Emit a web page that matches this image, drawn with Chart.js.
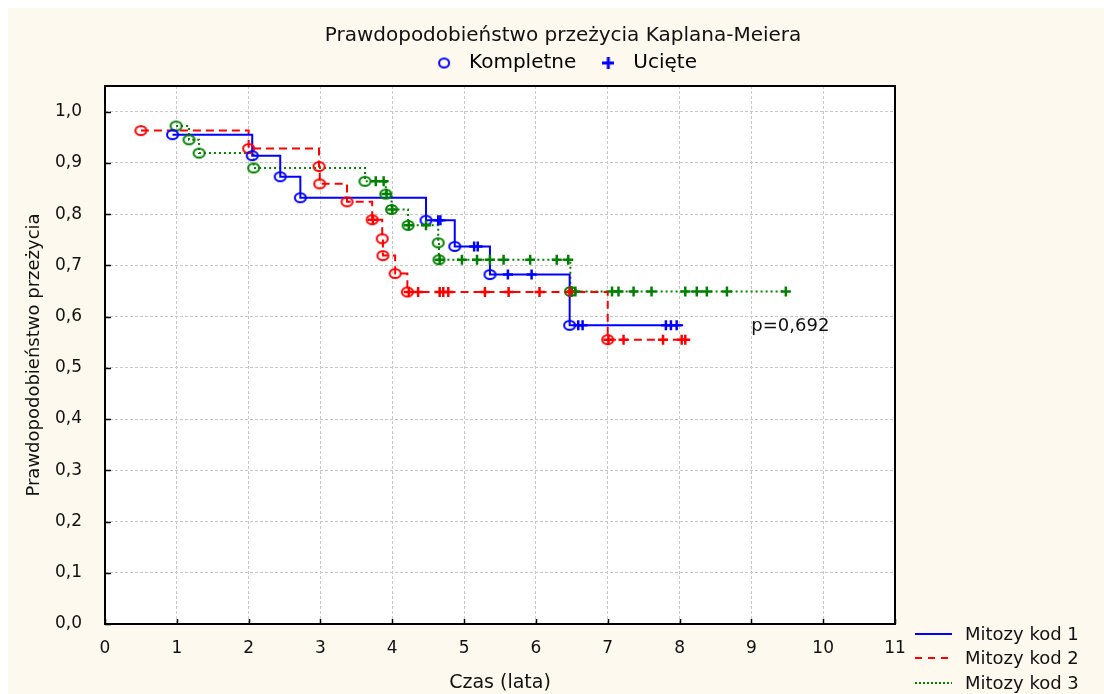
<!DOCTYPE html>
<html>
<head>
<meta charset="utf-8">
<script src="https://cdn.jsdelivr.net/npm/chart.js@4.4.0/dist/chart.umd.min.js"></script>
<style>
  html, body { margin: 0; padding: 0; background: #fff; }
  #wrap { position: relative; width: 1104px; height: 694px; overflow: hidden; }
  #paper { position: absolute; left: 8px; top: 8px; right: 0; bottom: 0; background: #fef9ef; }
  #kmChart { position: absolute; left: 0; top: 0; }
  .key { position: absolute; left: 915px; width: 189px; height: 24px; font: 18px "DejaVu Sans", sans-serif; color: #111; }
  .key .sample { position: absolute; left: 0; top: 11px; width: 37px; height: 2px; }
  .key span { position: absolute; left: 50px; top: 0; line-height: 24px; white-space: nowrap; }
</style>
</head>
<body>
<div id="wrap">
  <div id="paper"></div>
  <canvas id="kmChart" width="1104" height="694"></canvas>
  <div class="key" style="top:622px"><div class="sample" style="background:#0000ff"></div><span>Mitozy kod 1</span></div>
  <div class="key" style="top:646px"><div class="sample" style="background:repeating-linear-gradient(90deg,#ff0000 0 7px,transparent 7px 13px)"></div><span>Mitozy kod 2</span></div>
  <div class="key" style="top:671px"><div class="sample" style="background:repeating-linear-gradient(90deg,#008000 0 2px,transparent 2px 4px)"></div><span>Mitozy kod 3</span></div>
</div>
<script>
Chart.defaults.font.family = '"DejaVu Sans", sans-serif';
Chart.defaults.color = '#111';

// Mitozy kod 1 - step curve (time, survival); last point = end of follow-up
const kod1Times = [0.94, 2.05, 2.44, 2.72, 4.47, 4.87, 5.36, 6.47, 8.05];
const kod1Surv  = [0.955, 0.914, 0.873, 0.832, 0.788, 0.737, 0.682, 0.583, 0.583];
const kod1CensTimes = [4.64, 4.67, 5.14, 5.19, 5.61, 5.94, 6.59, 6.65, 7.81, 7.88, 7.96];
const kod1CensSurv  = [0.788, 0.788, 0.737, 0.737, 0.682, 0.682, 0.583, 0.583, 0.583, 0.583, 0.583];

// Mitozy kod 2
const kod2Times = [0.50, 2.00, 2.98, 2.99, 3.37, 3.72, 3.86, 3.87, 4.04, 4.21, 7.00, 8.10];
const kod2Surv  = [0.963, 0.928, 0.893, 0.859, 0.824, 0.789, 0.752, 0.719, 0.684, 0.648, 0.555, 0.555];
const kod2CensTimes = [3.73, 4.23, 4.36, 4.66, 4.71, 4.78, 5.29, 5.62, 6.05, 6.47, 7.01, 7.22, 7.77, 8.03, 8.08];
const kod2CensSurv  = [0.789, 0.648, 0.648, 0.648, 0.648, 0.648, 0.648, 0.648, 0.648, 0.648, 0.555, 0.555, 0.555, 0.555, 0.555];

// Mitozy kod 3
const kod3Times = [0.99, 1.17, 1.31, 2.07, 3.62, 3.91, 3.99, 4.22, 4.64, 4.65, 6.48, 9.48];
const kod3Surv  = [0.972, 0.945, 0.919, 0.890, 0.864, 0.839, 0.809, 0.778, 0.744, 0.711, 0.649, 0.649];
const kod3CensTimes = [3.77, 3.88, 3.92, 4.00, 4.23, 4.47, 4.66, 4.97, 5.18, 5.36, 5.55, 5.92, 6.29, 6.45,
                       6.50, 6.55, 7.06, 7.15, 7.36, 7.61, 8.08, 8.24, 8.38, 8.66, 9.48];
const kod3CensSurv  = [0.864, 0.864, 0.839, 0.809, 0.778, 0.778, 0.711, 0.711, 0.711, 0.711, 0.711, 0.711, 0.711, 0.711,
                       0.649, 0.649, 0.649, 0.649, 0.649, 0.649, 0.649, 0.649, 0.649, 0.649, 0.649];

const groupLabels = ['Mitozy kod 1', 'Mitozy kod 2', 'Mitozy kod 3'];
const groupColors = ['#0000ff', '#ff0000', '#008000'];
const groupDashes = [[], [8, 5], [2, 3]];

const pValueText = 'p=0,692';
const pValueAt = [9.0, 0.58];

const toPoints = (xs, ys) => xs.map((x, i) => ({ x: x, y: ys[i] }));

// small ellipse used as the "Kompletne" marker (picture is a bit wider than tall)
function makeRing(color, w, h, lw) {
    const c = document.createElement('canvas');
    c.width = w + 2; c.height = h + 2;
    const g = c.getContext('2d');
    g.strokeStyle = color;
    g.lineWidth = lw;
    g.beginPath();
    g.ellipse(c.width / 2, c.height / 2, w / 2 - lw / 2, h / 2 - lw / 2, 0, 0, Math.PI * 2);
    g.stroke();
    return c;
}
function makePlus(color, size, lw) {
    const c = document.createElement('canvas');
    c.width = size; c.height = size;
    const g = c.getContext('2d');
    g.fillStyle = color;
    g.fillRect(0, (size - lw) / 2, size, lw);
    g.fillRect((size - lw) / 2, 0, lw, size);
    return c;
}

const rings = groupColors.map(col => makeRing(col, 13, 11, 2));

const allTimes = [kod1Times, kod2Times, kod3Times];
const allSurv = [kod1Surv, kod2Surv, kod3Surv];
const allCensT = [kod1CensTimes, kod2CensTimes, kod3CensTimes];
const allCensS = [kod1CensSurv, kod2CensSurv, kod3CensSurv];

let datasets = [];
for (let g = 0; g < 3; g++) {
    datasets.push({
        label: groupLabels[g],
        data: toPoints(allTimes[g], allSurv[g]),
        stepped: true,
        borderColor: groupColors[g],
        borderWidth: 2,
        borderDash: groupDashes[g],
        pointRadius: 0,
        fill: false,
        order: 3
    });
    datasets.push({
        label: groupLabels[g] + ' kompletne',
        data: toPoints(allTimes[g].slice(0, -1), allSurv[g].slice(0, -1)),
        showLine: false,
        pointStyle: rings[g],
        pointRadius: 5,
        order: 2
    });
    datasets.push({
        label: groupLabels[g] + ' ucięte',
        data: toPoints(allCensT[g], allCensS[g]),
        showLine: false,
        pointStyle: 'cross',
        pointRadius: 5,
        pointBorderWidth: 2.5,
        pointBorderColor: groupColors[g],
        order: 1
    });
}

const framePlugin = {
    id: 'frame',
    beforeDraw(chart) {
        const { ctx, chartArea: a } = chart;
        ctx.save();
        ctx.fillStyle = '#ffffff';
        ctx.fillRect(a.left, a.top, a.right - a.left, a.bottom - a.top);
        ctx.restore();
    },
    afterDraw(chart) {
        const { ctx, chartArea: a } = chart;
        const xs = chart.scales.x, ys = chart.scales.y;
        ctx.save();
        ctx.strokeStyle = '#000';
        ctx.lineWidth = 2;
        ctx.strokeRect(a.left, a.top, a.right - a.left, a.bottom - a.top);
        ctx.lineWidth = 1.5;
        ctx.beginPath();
        ys.ticks.forEach(t => {
            const py = Math.round(ys.getPixelForValue(t.value)) + 0.5;
            ctx.moveTo(a.left, py); ctx.lineTo(a.left + 6, py);
        });
        xs.ticks.forEach(t => {
            const px = Math.round(xs.getPixelForValue(t.value)) + 0.5;
            ctx.moveTo(px, a.bottom); ctx.lineTo(px, a.bottom - 5);
        });
        ctx.stroke();
        ctx.fillStyle = '#111';
        ctx.font = '18px "DejaVu Sans", sans-serif';
        ctx.textBaseline = 'middle';
        ctx.textAlign = 'left';
        ctx.fillText(pValueText, xs.getPixelForValue(pValueAt[0]), ys.getPixelForValue(pValueAt[1]));
        ctx.restore();
    }
};

const config = {
    type: 'line',
    data: { datasets: datasets },
    plugins: [framePlugin],
    options: {
        responsive: false,
        animation: false,
        events: [],
        layout: { padding: { left: 22, right: 0, top: 0, bottom: 0 } },
        plugins: {
            title: {
                display: true,
                text: 'Prawdopodobieństwo przeżycia Kaplana-Meiera',
                color: '#111',
                font: { size: 20, weight: 'normal', lineHeight: 1 },
                padding: { top: 26, bottom: -10 }
            },
            legend: {
                display: true,
                position: 'top',
                labels: {
                    usePointStyle: true,
                    pointStyleWidth: 30,
                    padding: 17,
                    color: '#111',
                    font: { size: 20 },
                    generateLabels: () => [
                        { text: 'Kompletne', pointStyle: makeRing('#0000ff', 12, 11, 2), fillStyle: 'transparent', strokeStyle: '#0000ff', lineWidth: 1, hidden: false, datasetIndex: 0 },
                        { text: 'Ucięte', pointStyle: makePlus('#0000ff', 12, 3), fillStyle: 'transparent', strokeStyle: '#0000ff', lineWidth: 1, hidden: false, datasetIndex: 2 }
                    ]
                }
            },
            tooltip: { enabled: false }
        },
        scales: {
            x: {
                type: 'linear',
                position: 'bottom',
                min: 0,
                max: 11,
                ticks: { stepSize: 1, padding: 14, color: '#111', font: { size: 17 } },
                grid: { color: '#c8c8c8', lineWidth: 1, drawTicks: false },
                border: { display: false, dash: [3, 2] },
                title: { display: true, text: 'Czas (lata)', color: '#111', font: { size: 19 }, padding: { top: 0, bottom: 0 } },
                afterFit: (s) => { s.height = 70; }
            },
            x2: {
                type: 'linear',
                position: 'top',
                ticks: { display: false },
                grid: { display: false },
                border: { display: false },
                afterFit: (s) => { s.height = 3; }
            },
            y: {
                type: 'linear',
                position: 'left',
                min: 0,
                max: 1.05,
                ticks: {
                    stepSize: 0.1,
                    includeBounds: false,
                    padding: 23,
                    color: '#111',
                    font: { size: 17 },
                    callback: (v) => v.toFixed(1).replace('.', ',')
                },
                grid: { color: '#c8c8c8', lineWidth: 1, drawTicks: false },
                border: { display: false, dash: [3, 2] },
                title: { display: true, text: 'Prawdopodobieństwo przeżycia', color: '#111', font: { size: 18 }, padding: { top: 2, bottom: 0 } },
                afterFit: (s) => { s.width = 83; }
            },
            y2: {
                type: 'linear',
                position: 'right',
                ticks: { display: false },
                grid: { display: false },
                border: { display: false },
                afterFit: (s) => { s.width = 209; }
            }
        }
    }
};

const chart = new Chart(document.getElementById('kmChart'), config);
</script>
</body>
</html>
